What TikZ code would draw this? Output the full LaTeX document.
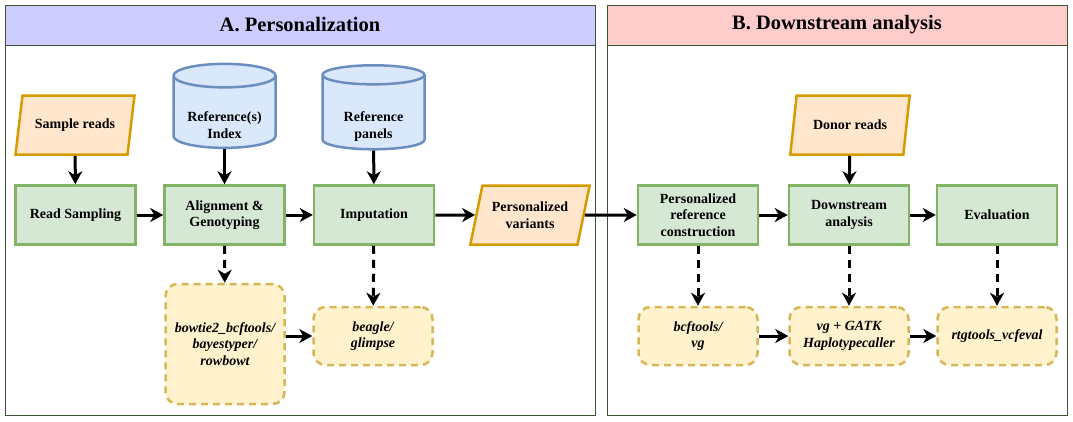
\documentclass[tikz,border=0pt]{standalone}
\usepackage{fontspec}
\setmainfont{Liberation Serif}
\usepackage{xcolor}
\usepackage{tikz}
\usetikzlibrary{shapes.geometric,arrows.meta}
\definecolor{panelline}{HTML}{3A5431}
\definecolor{bandA}{HTML}{CCCCFF}
\definecolor{bandB}{HTML}{FFCCCC}
\definecolor{stepfill}{HTML}{D5E8D4}
\definecolor{stepline}{HTML}{82B366}
\definecolor{iofill}{HTML}{FFE6CC}
\definecolor{ioline}{HTML}{D79B00}
\definecolor{dbfill}{HTML}{DAE8FC}
\definecolor{dbline}{HTML}{6C8EBF}
\definecolor{toolfill}{HTML}{FFF2CC}
\definecolor{toolline}{HTML}{D6B656}
\def\boxfont{\bfseries\fontsize{14}{16.5}\selectfont}
\def\dbtext#1{\raisebox{-12.5pt}[\height][\depth]{\begin{tabular}{@{}c@{}}#1\end{tabular}}}
\tikzstyle{everynode}=[font=\boxfont,align=center,line width=2.5pt,inner sep=2pt]
\tikzstyle{stepbox}=[everynode,rectangle,draw=stepline,fill=stepfill,minimum width=120pt,minimum height=59pt]
\tikzstyle{iobox}=[everynode,trapezium,trapezium left angle=71.5,trapezium right angle=108.5,trapezium stretches=true,draw=ioline,fill=iofill,minimum width=120pt,minimum height=59pt]
\tikzstyle{dbnode}=[everynode,cylinder,shape border rotate=90,aspect=0.3,draw=dbline,fill=dbfill,minimum width=102pt,minimum height=84pt]
\tikzstyle{toolbox}=[everynode,font=\boxfont\itshape,rectangle,rounded corners=12pt,draw=toolline,fill=toolfill,dash pattern=on 7pt off 5pt,minimum width=119pt,minimum height=58pt]
\tikzstyle{flow}=[line width=3pt,-{Stealth[length=13pt,width=14pt,inset=4pt]}]
\tikzstyle{tooluse}=[flow,dash pattern=on 8pt off 6pt]
\tikzstyle{panel}=[draw=panelline,line width=1pt]
\begin{document}
\begin{tikzpicture}[x=1pt,y=-1pt]
  \useasboundingbox (0,0) rectangle (1073,421);
  \draw[panel,fill=bandA] (5,5) rectangle (595,45);
  \draw[panel] (5,45) rectangle (595,415);
  \draw[panel,fill=bandB] (607,5) rectangle (1067,45);
  \draw[panel] (607,45) rectangle (1067,415);
  \node[font=\bfseries\fontsize{20.5}{24}\selectfont] (titleA) at (300,25) {A. Personalization};
  \node[font=\bfseries\fontsize{20.5}{24}\selectfont] (titleB) at (837,25) {B. Downstream analysis};

  \node[iobox] (sread) at (75,125) {Sample reads};
  \node[stepbox] (rsamp) at (75.5,215) {Read Sampling};
  \node[dbnode] (refidx) at (224.5,114) {\dbtext{Reference(s)\\Index}};
  \node[stepbox] (align) at (224.5,215) {Alignment \&\\Genotyping};
  \node[dbnode] (refpan) at (373.5,114) {\dbtext{Reference\\panels}};
  \node[stepbox] (imput) at (374,215) {Imputation};
  \node[iobox] (pvar) at (530,215) {Personalized\\variants};
  \node[toolbox,minimum height=120pt] (bowtie) at (225,344) {bowtie2\_bcftools/\\bayestyper/\\rowbowt};
  \node[toolbox] (beagle) at (373,336) {beagle/\\glimpse};

  \node[stepbox] (prc) at (698,215) {Personalized\\reference\\construction};
  \node[iobox] (dread) at (850,125) {Donor reads};
  \node[stepbox] (dsa) at (849,215) {Downstream\\analysis};
  \node[stepbox] (evalb) at (997,215) {Evaluation};
  \node[toolbox] (bcf) at (698,336) {bcftools/\\vg};
  \node[toolbox] (vgg) at (849,336) {vg + GATK\\Haplotypecaller};
  \node[toolbox] (rtg) at (997,336) {rtgtools\_vcfeval};

  \draw[flow] (sread) -- (rsamp);
  \draw[flow] (refidx) -- (align);
  \draw[flow] (refpan) -- (imput);
  \draw[flow] (dread) -- (dsa);
  \draw[flow] (rsamp) -- (align);
  \draw[flow] (align) -- (imput);
  \draw[flow] (imput) -- (pvar);
  \draw[flow] (pvar) -- (prc);
  \draw[flow] (prc) -- (dsa);
  \draw[flow] (dsa) -- (evalb);
  \draw[tooluse] (align) -- (bowtie);
  \draw[tooluse] (imput) -- (beagle);
  \draw[tooluse] (prc) -- (bcf);
  \draw[tooluse] (dsa) -- (vgg);
  \draw[tooluse] (evalb) -- (rtg);
  \draw[flow] (bowtie.east |- beagle) -- (beagle);
  \draw[flow] (bcf) -- (vgg);
  \draw[flow] (vgg) -- (rtg);
\end{tikzpicture}
\end{document}
